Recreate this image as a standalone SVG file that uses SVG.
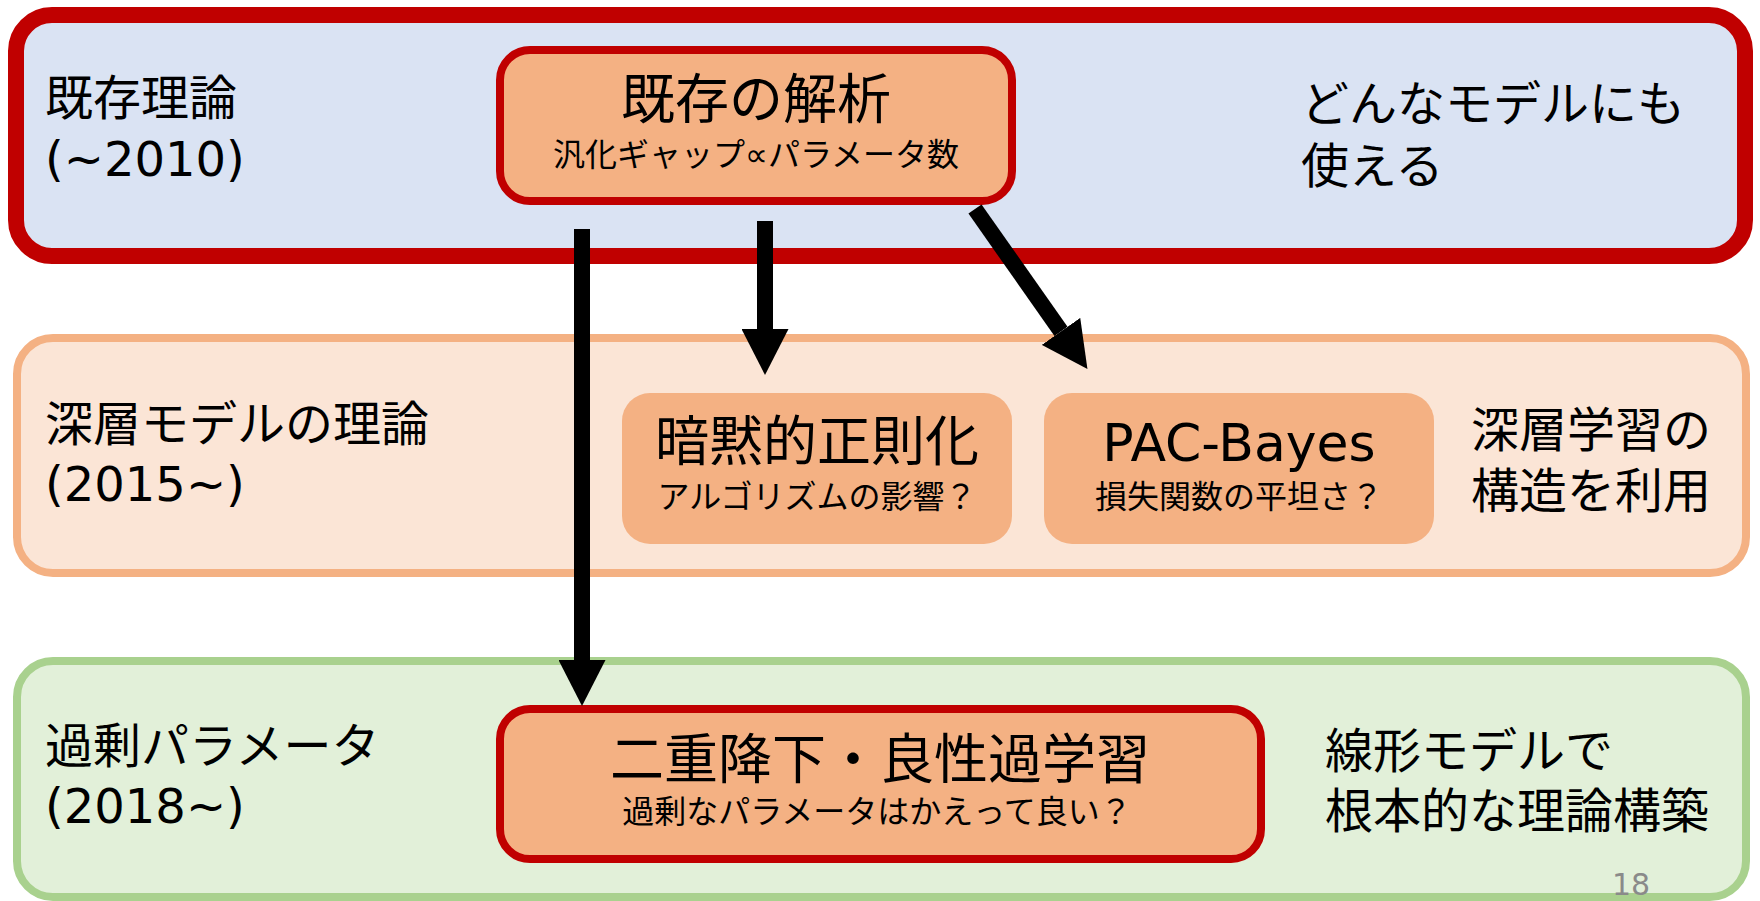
<svg xmlns="http://www.w3.org/2000/svg" width="1760" height="901" viewBox="0 0 1760 901">
<defs>
<style>
text{font-family:"DejaVu Sans","Noto Sans CJK JP",sans-serif;fill:#000}
.lbl{font-size:48px}
.ttl{font-size:54px;text-anchor:middle}
.sub{font-size:32px;text-anchor:middle}
.node{fill:#F4B183}
.hl{stroke:#C00000;stroke-width:8}
.conn{stroke:#000;stroke-width:16;fill:none;marker-end:url(#ah)}
</style>
<marker id="ah" markerUnits="userSpaceOnUse" viewBox="0 0 46 47" markerWidth="46" markerHeight="47" refX="0" refY="23.5" orient="auto">
<path d="M0,0 L46,23.5 L0,47 Z" fill="#000"/>
</marker>
</defs>
<rect width="1760" height="901" fill="#fff"/>

<g id="band-classic">
<rect x="16" y="15" width="1729" height="241" rx="36" fill="#DAE3F3" stroke="#C00000" stroke-width="16"/>
<text class="lbl" x="45" y="115">既存理論</text>
<text class="lbl" x="45" y="176">(~2010)</text>
<text class="lbl" x="1301" y="121">どんなモデルにも</text>
<text class="lbl" x="1301" y="183">使える</text>
</g>

<g id="band-deep">
<rect x="17" y="338" width="1729" height="235" rx="36" fill="#FBE5D6" stroke="#F4B183" stroke-width="8"/>
<text class="lbl" x="45" y="441">深層モデルの理論</text>
<text class="lbl" x="45" y="501">(2015~)</text>
<text class="lbl" x="1471" y="447">深層学習の</text>
<text class="lbl" x="1471" y="508">構造を利用</text>
</g>

<g id="band-over">
<rect x="17" y="661" width="1729" height="236" rx="36" fill="#E2F0D9" stroke="#A9D18E" stroke-width="8"/>
<text class="lbl" x="45" y="763">過剰パラメータ</text>
<text class="lbl" x="45" y="823">(2018~)</text>
<text class="lbl" x="1325" y="768">線形モデルで</text>
<text class="lbl" x="1325" y="828">根本的な理論構築</text>
<text x="1612" y="895" style="font-size:30px;fill:#8a8a8a">18</text>
</g>

<g id="node-existing">
<rect class="node hl" x="500" y="50" width="512" height="151" rx="30"/>
<text class="ttl" x="756" y="119">既存の解析</text>
<text class="sub" x="756" y="166">汎化ギャップ∝パラメータ数</text>
</g>

<g id="node-implicit">
<rect class="node" x="622" y="393" width="390" height="151" rx="28"/>
<text class="ttl" x="817" y="461">暗黙的正則化</text>
<text class="sub" x="817" y="508">アルゴリズムの影響？</text>
</g>

<g id="node-pacbayes">
<rect class="node" x="1044" y="393" width="390" height="151" rx="28"/>
<text x="1239" y="461" style="font-size:52px;text-anchor:middle">PAC-Bayes</text>
<text class="sub" x="1239" y="508">損失関数の平坦さ？</text>
</g>

<g id="node-double">
<rect class="node hl" x="500" y="709" width="761" height="150" rx="30"/>
<text class="ttl" x="880" y="779">二重降下・良性過学習</text>
<text class="sub" x="877" y="823">過剰なパラメータはかえって良い？</text>
</g>

<g id="connectors">
<line class="conn" x1="582" y1="229" x2="582" y2="660"/>
<line class="conn" x1="765" y1="221" x2="765" y2="329"/>
<line class="conn" x1="975" y1="209" x2="1061" y2="331.4"/>
</g>
</svg>
